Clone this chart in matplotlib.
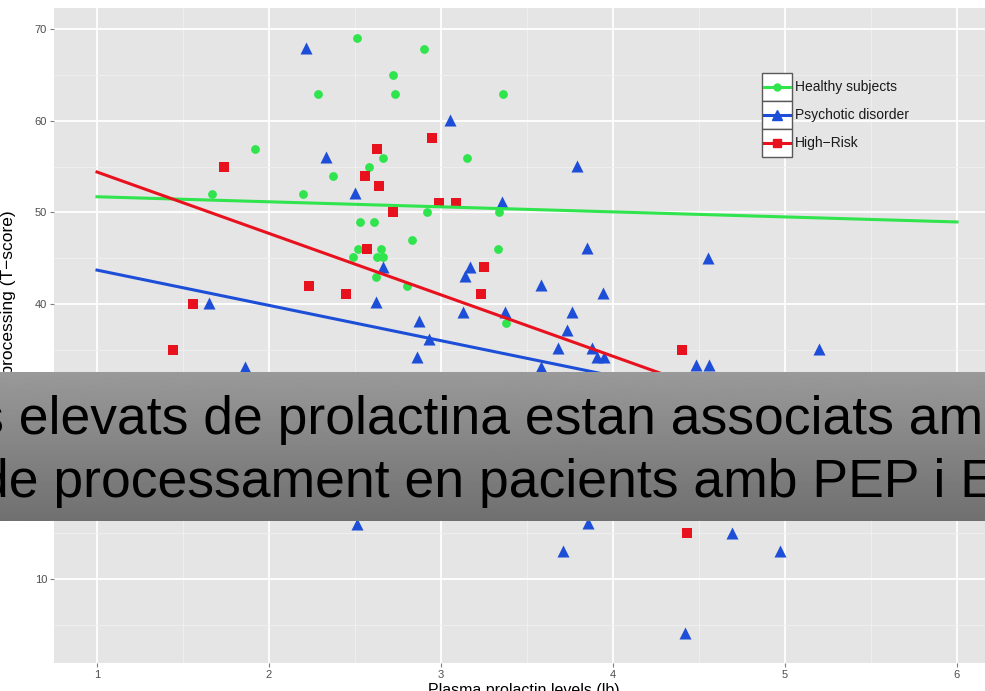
import matplotlib
matplotlib.use("Agg")
import numpy as np
import matplotlib.pyplot as plt
from matplotlib.patches import Rectangle
from matplotlib.lines import Line2D

plt.rcParams['font.family'] = ['Liberation Sans', 'DejaVu Sans']

# Healthy subjects (green circles)
healthy_x = [2.51, 2.90, 2.72, 2.73, 3.36, 2.285, 1.92, 2.37, 1.67, 2.20, 2.66, 2.58,
             3.15, 2.92, 3.34, 2.53, 2.61, 2.83, 3.33, 2.52, 2.65, 2.49, 2.63, 2.66,
             2.62, 2.80, 3.38]
healthy_y = [69.0, 67.8, 65.0, 62.9, 62.9, 62.9, 56.9, 54.0, 52.0, 52.0, 55.9, 55.0,
             55.9, 50.0, 50.0, 49.0, 49.0, 47.0, 46.0, 46.0, 46.0, 45.1, 45.1, 45.1,
             43.0, 42.0, 37.9]

# Psychotic disorder (blue triangles)
psych_x = [2.215, 2.33, 1.65, 1.86, 3.05, 3.79, 2.50, 3.355, 3.85, 2.66, 3.17, 3.14,
           3.58, 3.94, 2.62, 3.13, 3.37, 3.76, 2.87, 3.73, 2.93, 3.68, 2.86, 3.88,
           3.91, 3.95, 3.58, 4.55, 5.20, 4.48, 4.56, 1.47, 3.30, 3.37, 2.51, 3.855,
           3.71, 4.69, 4.97, 4.42]
psych_y = [67.9, 56.0, 40.1, 33.1, 60.1, 55.1, 52.1, 51.1, 46.1, 44.0, 44.0, 43.1,
           42.1, 41.2, 40.2, 39.1, 39.1, 39.1, 38.2, 37.2, 36.2, 35.2, 34.2, 35.2,
           34.2, 34.2, 33.1, 45.0, 35.1, 33.4, 33.4, 31.9, 31.9, 31.9, 16.0, 16.1,
           13.1, 15.0, 13.1, 4.1]

# High-Risk (red squares)
risk_x = [1.74, 1.56, 1.44, 2.23, 2.45, 2.95, 2.63, 2.56, 2.64, 2.99, 3.09, 2.72,
          2.57, 3.25, 3.23, 4.40, 4.43, 2.75]
risk_y = [54.9, 40.0, 35.0, 42.0, 41.1, 58.1, 56.9, 54.0, 52.9, 51.0, 51.0, 50.0,
          46.0, 44.0, 41.1, 35.0, 15.0, 31.8]

# fitted lines, values at x = 1 and x = 6
fit_x = [1, 6]
healthy_fit = [51.7, 48.95]
psych_fit = [43.7, 24.45]
risk_fit = [54.4, 20.9]

groups = ['Healthy subjects', 'Psychotic disorder', 'High\u2212Risk']
green, blue, red = '#2fe44c', '#1d4ed8', '#e8121f'

fig = plt.figure(figsize=(9.85, 6.91), dpi=100)
W, H = 985, 691

# panel in pixel terms: left 54, top 8, bottom 663, runs off the right edge
ax = fig.add_axes([54 / W, 1 - 663 / H, 1 - 54 / W, (663 - 8) / H])
ax.set_facecolor('#e5e5e5')
for s in ax.spines.values():
    s.set_visible(False)

ax.set_xlim(0.75, 6.163)
ax.set_ylim(0.84, 72.29)
ax.set_xticks([1, 2, 3, 4, 5, 6])
ax.set_yticks([10, 40, 50, 60, 70])
ax.set_xticks(np.arange(1.5, 6.5, 1), minor=True)
ax.set_yticks(np.arange(5, 75, 10), minor=True)
ax.grid(True, which='major', color='white', lw=1.3)
ax.grid(True, which='minor', color='#f0f0f0', lw=0.6)
ax.set_axisbelow(True)
ax.tick_params(which='major', length=3, color='#7f7f7f', labelcolor='#4d4d4d',
               labelsize=8, pad=2)
ax.tick_params(which='minor', length=0)

ax.scatter(healthy_x, healthy_y, s=40, marker='o', color=green, zorder=3, lw=0)
ax.scatter(psych_x, psych_y, s=75, marker='^', color=blue, zorder=3, lw=0)
ax.scatter(risk_x, risk_y, s=52, marker='s', color=red, zorder=3, lw=0)

ax.plot(fit_x, healthy_fit, color=green, lw=2.2, zorder=4)
ax.plot(fit_x, psych_fit, color=blue, lw=2.2, zorder=4)
ax.plot(fit_x, risk_fit, color=red, lw=2.2, zorder=4)

# axis titles (cut by the image edges)
fig.text(9 / W, 1 - 330 / H, 'Speed of processing (T\u2212score)', rotation=90,
         ha='center', va='center', fontsize=12.5, color='black')
fig.text(428 / W, 1 - 683 / H, 'Plasma prolactin levels (lb)', ha='left', va='top',
         fontsize=11.5, color='black')

# legend drawn by hand, ggplot style keys
key_tops = [73, 101, 129]
styles = [(green, 'o', 5), (blue, '^', 6.5), (red, 's', 5.5)]
for top, (c, m, ms), lab in zip(key_tops, styles, groups):
    fig.patches.append(Rectangle((762 / W, 1 - (top + 28) / H), 30 / W, 28 / H,
                                 transform=fig.transFigure, facecolor='white',
                                 edgecolor='#595959', lw=1.0, zorder=5))
    yc = 1 - (top + 14) / H
    fig.lines.append(Line2D([764 / W, 790 / W], [yc, yc], transform=fig.transFigure,
                            color=c, lw=2.2, zorder=6))
    fig.lines.append(Line2D([777 / W], [yc], transform=fig.transFigure, color=c,
                            marker=m, ms=ms, lw=0, zorder=7))
    fig.text(795 / W, yc, lab, ha='left', va='center', fontsize=10, color='#1a1a1a',
             zorder=7)

# grey caption banner over the chart
bax = fig.add_axes([0, 1 - 521 / H, 1, 149 / H], zorder=10)
grad = np.linspace(0.60, 0.44, 100).reshape(-1, 1)
bax.imshow(grad, cmap='gray', vmin=0, vmax=1, aspect='auto', extent=[0, 1, 0, 1])
bax.set_axis_off()

fig.text(-154 / W, 1 - 434 / H, 'Nivells elevats de prolactina estan associats amb',
         ha='left', va='baseline', fontsize=38.5, color='black', zorder=11)
fig.text(-21 / W, 1 - 497 / H, 'de processament en pacients amb PEP i EAR',
         ha='left', va='baseline', fontsize=38.5, color='black', zorder=11)

fig.savefig('out.png', dpi=100)
